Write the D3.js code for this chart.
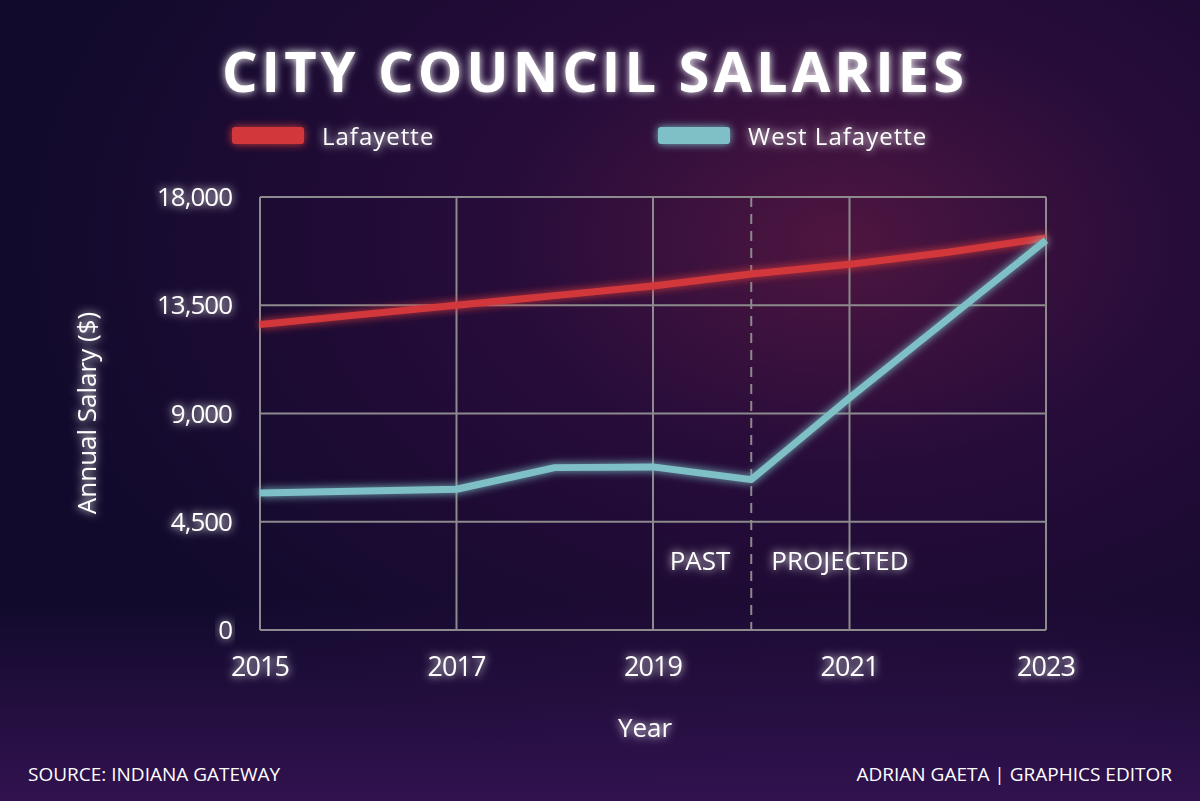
<!DOCTYPE html>
<html><head><meta charset="utf-8">
<script src="https://cdn.jsdelivr.net/npm/d3@7"></script>
<style>body{margin:0;background:#140a30;}svg{display:block}</style>
</head><body>
<script>
const years = [2015,2016,2017,2018,2019,2020,2021,2022,2023];
const lafayette = [12700,13100,13500,13900,14300,14800,15200,15700,16300];
const wlYears = [2015,2017,2018,2019,2020,2021,2023];
const westLafayette = [5700,5850,6750,6780,6250,9650,16200];
const yTicks = [0,4500,9000,13500,18000];
const xTicks = [2015,2017,2019,2021,2023];

const W=1200,H=801;
const svg=d3.select("body").append("svg").attr("width",W).attr("height",H);
const defs=svg.append("defs");
const bg=defs.append("radialGradient").attr("id","bg").attr("cx","0.7").attr("cy","0.3").attr("r","0.7");
bg.append("stop").attr("offset","0").attr("stop-color","#4e1640");
bg.append("stop").attr("offset","0.4").attr("stop-color","#270c3a");
bg.append("stop").attr("offset","1").attr("stop-color","#110a2c");
svg.append("rect").attr("width",W).attr("height",H).attr("fill","url(#bg)");
const bot=defs.append("linearGradient").attr("id","bot").attr("x1",0).attr("y1",0).attr("x2",0).attr("y2",1);
bot.append("stop").attr("offset","0").attr("stop-color","#3a1458").attr("stop-opacity",0);
bot.append("stop").attr("offset","1").attr("stop-color","#3a1458").attr("stop-opacity",0.8);
svg.append("rect").attr("y",600).attr("width",W).attr("height",201).attr("fill","url(#bot)");

const glow=defs.append("filter").attr("id","glow").attr("x","-20%").attr("y","-50%").attr("width","140%").attr("height","200%");
glow.append("feGaussianBlur").attr("stdDeviation",4).attr("result","b");
const m=glow.append("feMerge");m.append("feMergeNode").attr("in","b");m.append("feMergeNode").attr("in","SourceGraphic");

const x=d3.scaleLinear().domain([2015,2023]).range([260,1046]);
const y=d3.scaleLinear().domain([0,18000]).range([630,197]);

const grid="#8c8a8c";
svg.append("g").selectAll("line").data(yTicks).join("line")
 .attr("x1",260).attr("x2",1046).attr("y1",d=>y(d)).attr("y2",d=>y(d)).attr("stroke",grid).attr("stroke-width",2);
svg.append("g").selectAll("line").data(xTicks).join("line")
 .attr("x1",d=>x(d)).attr("x2",d=>x(d)).attr("y1",197).attr("y2",630).attr("stroke",grid).attr("stroke-width",2);
svg.append("line").attr("x1",x(2020)).attr("x2",x(2020)).attr("y1",197).attr("y2",630)
 .attr("stroke",grid).attr("stroke-width",2).attr("stroke-dasharray","10,7");

const font="'Open Sans', sans-serif";
const txt=(t,xx,yy,s,a,w)=>svg.append("text").text(t).attr("x",xx).attr("y",yy).attr("font-size",s)
 .attr("text-anchor",a||"start").attr("fill","#fff").attr("font-family",font).attr("font-weight",w||400).attr("filter","url(#glow)");

svg.append("g").selectAll("text").data(yTicks).join("text").text(d=>d3.format(",")(d))
 .attr("x",232).attr("y",d=>y(d)+9).attr("text-anchor","end").attr("font-size",26).attr("fill","#fff")
 .attr("font-family",font).attr("letter-spacing",-1).attr("filter","url(#glow)");
svg.append("g").selectAll("text").data(xTicks).join("text").text(d=>d)
 .attr("x",d=>x(d)).attr("y",676).attr("text-anchor","middle").attr("font-size",27).attr("fill","#fff")
 .attr("font-family",font).attr("letter-spacing",-1).attr("filter","url(#glow)");

const line=d3.line().x(d=>x(d[0])).y(d=>y(d[1]));
svg.append("path").datum(years.map((d,i)=>[d,lafayette[i]])).attr("d",line).attr("fill","none")
 .attr("stroke","#d2393a").attr("stroke-width",7).attr("filter","url(#glow)");
svg.append("path").datum(wlYears.map((d,i)=>[d,westLafayette[i]])).attr("d",line).attr("fill","none")
 .attr("stroke","#7fc0c6").attr("stroke-width",7).attr("stroke-linejoin","round").attr("filter","url(#glow)");

txt("CITY COUNCIL SALARIES",595,92,56,"middle",700).attr("letter-spacing",4);
svg.append("rect").attr("x",232).attr("y",127).attr("width",72).attr("height",17).attr("rx",3).attr("fill","#d2393a").attr("filter","url(#glow)");
svg.append("rect").attr("x",658).attr("y",127).attr("width",72).attr("height",17).attr("rx",3).attr("fill","#7fc0c6").attr("filter","url(#glow)");
txt("Lafayette",322,145,24).attr("letter-spacing",1);
txt("West Lafayette",748,145,24).attr("letter-spacing",1);
txt("PAST",700,570,26,"middle");
txt("PROJECTED",840,570,26,"middle");
txt("Year",645,737,26,"middle");
svg.append("text").text("Annual Salary ($)").attr("transform","translate(96,413) rotate(-90)").attr("text-anchor","middle")
 .attr("font-size",26).attr("fill","#fff").attr("font-family",font).attr("filter","url(#glow)");
svg.append("text").text("SOURCE: INDIANA GATEWAY").attr("x",28).attr("y",781).attr("font-size",19).attr("fill","#fff").attr("font-family",font);
svg.append("text").text("ADRIAN GAETA | GRAPHICS EDITOR").attr("x",1172).attr("y",781).attr("text-anchor","end").attr("font-size",19).attr("fill","#fff").attr("font-family",font);
</script>
</body></html>
